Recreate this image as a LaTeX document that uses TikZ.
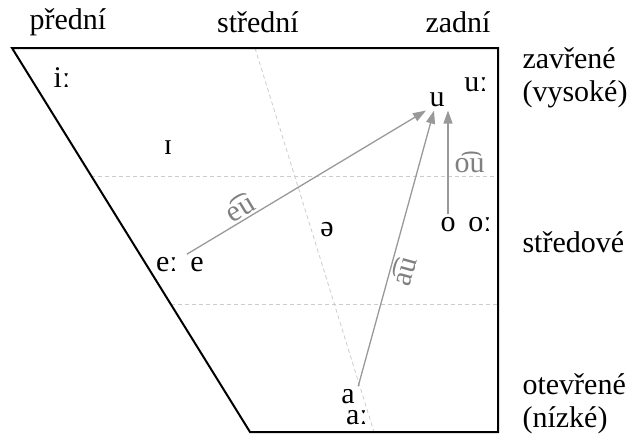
\documentclass[tikz,border=0pt]{standalone}
\usepackage{fontspec}
\setmainfont{Liberation Serif}
\usetikzlibrary{calc,arrows.meta}
\definecolor{sedasipka}{gray}{0.6}
\definecolor{sedamrizka}{gray}{0.8}
\tikzset{
  mrizka/.style={draw=sedamrizka, line width=0.8pt, dash pattern=on 4pt off 3pt},
  sipka/.style={draw=sedasipka, line width=1.3pt, -{Triangle[length=13pt,width=9pt]}},
  popis/.style={text=gray, inner sep=2pt}
}
\begin{document}
\begin{tikzpicture}[x=1pt,y=-1pt,font=\fontsize{30}{33}\selectfont]
				\useasboundingbox (0,0) rectangle (633,434);
				\coordinate (A) at (12,48);
				\coordinate (B) at (498,48);
				\coordinate (C) at (498,432);
				\coordinate (D) at (250,432);
				\draw[mrizka] ($(A)!0.5!(B)$) -- ($(D)!0.5!(C)$);
				\draw[mrizka] ($(A)!1/3!(D)$) -- ($(B)!1/3!(C)$);
				\draw[mrizka] ($(A)!2/3!(D)$) -- ($(B)!2/3!(C)$);
				\draw[line width=2pt] (A)--(B)--(C)--(D)--cycle;
				\node (pr) at (68,22) {přední};
				\node (st) at (258,22) {střední};
				\node (za) at (458,22) {zadní};
				\node[anchor=west, align=left] (zav) at (519,78) {zavřené\\(vysoké)};
				\node[anchor=west] (str) at (519,242) {středové};
				\node[anchor=west, align=left] (ote) at (519,404) {otevřené\\(nízké)};
				\node (i) at (62,78) {iː};
				\node (I) at (168,148) {ɪ};
				\node (uu) at (476,85) {uː};
				\node (u) at (437,100) {u};
				\node (schwa) at (327,230) {ə};
				\node (ee) at (167,265) {eː};
				\node (e) at (197,265) {e};
				\node (o) at (448,225) {o};
				\node (oo) at (480,225) {oː};
				\node (a) at (348,397) {a};
				\node (aa) at (357,418) {aː};
				\draw[sipka] (e.north west) -- (u.south west)
					node[popis, pos=0.25, above, sloped] (eu) {e͡u};
				\draw[sipka] (a.north east) -- ([xshift=-3pt]u.south)
					node[popis, pos=0.43, below, sloped] (au) {a͡u};
				\draw[sipka] (o.north) -- (o.north |- u.south)
					node[popis, midway, right, xshift=4pt] (ou) {o͡u};
			\end{tikzpicture}
\end{document}
